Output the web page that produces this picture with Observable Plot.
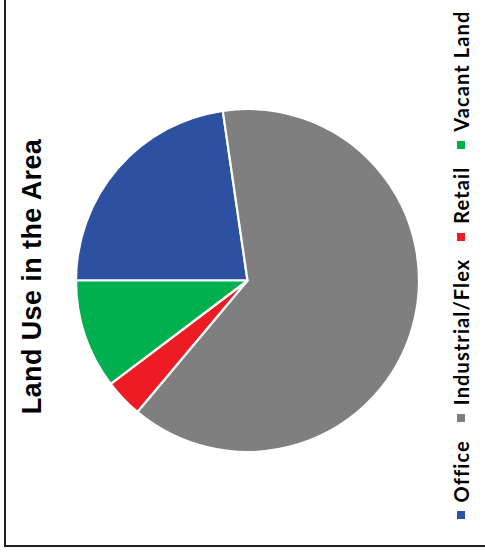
<!DOCTYPE html>
<html>
<head>
<meta charset="utf-8">
<script src="https://cdn.jsdelivr.net/npm/d3@7"></script>
<script src="https://cdn.jsdelivr.net/npm/@observablehq/plot@0.6"></script>
<style>
  html, body { margin: 0; padding: 0; background: #fff; overflow: hidden; width: 485px; height: 559px; }
  #wrap {
    position: absolute; left: 0; top: 0; width: 559px; height: 485px;
    transform-origin: 0 0; transform: translate(0px, 559px) rotate(-90deg);
    overflow: hidden; background: #fff;
  }
  #frame {
    position: absolute; left: 12px; top: 4px; width: 700px; height: 700px;
    border: 2px solid #231f20; box-sizing: border-box;
  }
  #title {
    position: absolute; left: 0; width: 565px; top: 17px; text-align: center;
    font-family: "Liberation Sans", Arial, sans-serif; font-weight: bold; font-size: 27px;
    color: #000; line-height: 30px; letter-spacing: 0.4px;
  }
  #chart { position: absolute; left: 0; top: 0; }
  #legend {
    position: absolute; left: 0; width: 588px; top: 449px; display: flex; justify-content: center;
    align-items: center; font-family: Lato, "Open Sans", sans-serif; font-weight: bold; font-size: 20px;
    letter-spacing: 1.1px; color: #000; white-space: nowrap;
  }
  .item { display: flex; align-items: center; margin: 0 9px; }
  .sw { width: 8px; height: 8px; margin-right: 9px; }
</style>
</head>
<body>
<div id="wrap">
  <div id="frame"></div>
  <div id="chart"></div>
  <div id="title">Land Use in the Area</div>
  <div id="legend"></div>
</div>
<script>
const categories = ["Office", "Industrial/Flex", "Retail", "Vacant Land"];
const shares = [22.7, 63.4, 3.6, 10.3];
const colors = ["#2e50a1", "#7f7f7f", "#ed1c24", "#00b04f"];
const titleText = "Land Use in the Area";

const data = categories.map((c, i) => ({category: c, value: shares[i]}));

function pieMark(rows) {
  return (index, scales, values, dimensions) => {
    const cx = scales.x(0), cy = scales.y(0);
    const r = Math.abs(scales.x(1) - scales.x(0));
    const arcs = d3.pie().sort(null).value(d => d.value)(rows);
    const arc = d3.arc().innerRadius(0).outerRadius(r);
    const g = d3.create("svg:g").attr("transform", `translate(${cx},${cy})`);
    g.selectAll("path").data(arcs).join("path")
      .attr("d", arc)
      .attr("fill", d => scales.color(d.data.category))
      .attr("stroke", "#fff")
      .attr("stroke-width", 2.2)
      .attr("stroke-linejoin", "round");
    return g.node();
  };
}

const plot = Plot.plot({
  width: 559,
  height: 485,
  marginLeft: 107,
  marginRight: 109,
  marginTop: 76,
  marginBottom: 66,
  x: {domain: [-1, 1], axis: null},
  y: {domain: [1, -1], axis: null},
  color: {domain: categories, range: colors},
  style: {background: "transparent"},
  marks: [pieMark(data)]
});
document.getElementById("chart").appendChild(plot);

document.getElementById("title").textContent = titleText;

const legend = d3.select("#legend");
const items = legend.selectAll(".item").data(categories).join("div").attr("class", "item");
items.append("div").attr("class", "sw").style("background", (d, i) => colors[i]);
items.append("span").text(d => d);
</script>
</body>
</html>
